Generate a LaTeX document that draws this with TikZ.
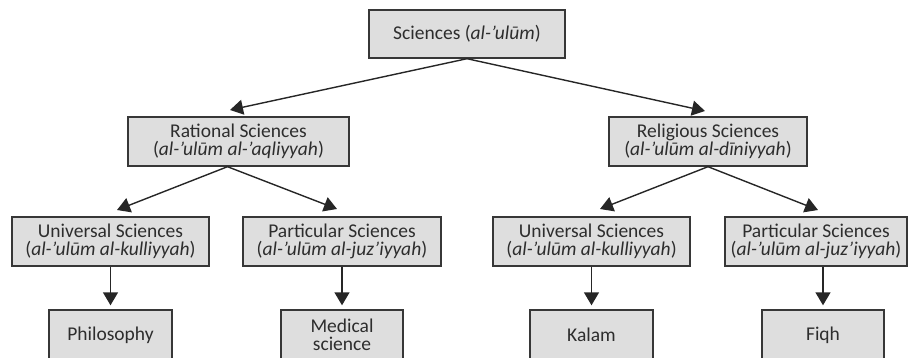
\documentclass[tikz,border=0pt]{standalone}
\usepackage{fontspec}
\setmainfont{Carlito}
\usetikzlibrary{arrows.meta,calc}
\definecolor{boxfill}{RGB}{222,222,222}
\definecolor{boxline}{RGB}{55,55,55}
\definecolor{txt}{RGB}{45,45,45}
\tikzset{
  box/.style={draw=boxline, fill=boxfill, line width=1.4pt, inner sep=0pt,
    minimum height=49pt, align=center, text=txt,
    font=\fontsize{19.5pt}{18pt}\selectfont},
  arr/.style={draw=black!85, line width=1.4pt,
    -{Triangle[length=13pt,width=15pt]}},
}
\begin{document}
\begin{tikzpicture}[x=1pt,y=-1pt]
\useasboundingbox (0,0) rectangle (912,358);
\node[box, minimum width=196pt, minimum height=48pt] (top) at (467,34) {Sciences (\textit{al-’ulūm})};
\node[box, minimum width=221pt] (rat) at (238.5,141.5) {Rational Sciences\\(\textit{al-’ulūm al-’aqliyyah})};
\node[box, minimum width=198pt] (rel) at (708,141.5) {Religious Sciences\\(\textit{al-’ulūm al-dīniyyah})};
\node[box, minimum width=197pt] (uniL) at (110.5,241.5) {Universal Sciences\\(\textit{al-’ulūm al-kulliyyah})};
\node[box, minimum width=198pt] (parL) at (342,241.5) {Particular Sciences\\(\textit{al-’ulūm al-juz’iyyah})};
\node[box, minimum width=197pt] (uniR) at (591.5,241.5) {Universal Sciences\\(\textit{al-’ulūm al-kulliyyah})};
\node[box, minimum width=182pt] (parR) at (816,241.5) {Particular Sciences\\(\textit{al-’ulūm al-juz’iyyah})};
\node[box, minimum width=123pt, minimum height=50pt] (phil) at (110.5,335) {Philosophy};
\node[box, minimum width=122pt, minimum height=50pt] (med) at (342,335) {Medical\\science};
\node[box, minimum width=123pt, minimum height=50pt] (kal) at (591.5,335) {Kalam};
\node[box, minimum width=122pt, minimum height=50pt] (fiq) at (823,335) {Fiqh};
\coordinate (tRat) at (230,110);
\coordinate (tRel) at (705,111);
\coordinate (tUL) at (117,210);
\coordinate (tPL) at (337,209);
\coordinate (tUR) at (600,209);
\coordinate (tPR) at (818,210);
\draw[arr] (top.south) -- (tRat);
\draw[arr] (top.south) -- (tRel);
\draw[arr] ([xshift=-11pt]rat.south) -- (tUL);
\draw[arr] ([xshift=-11pt]rat.south) -- (tPL);
\draw[arr] (rel.south) -- (tUR);
\draw[arr] (rel.south) -- (tPR);
\draw[arr, shorten >=4pt] (uniL.south -| phil.north) -- (phil.north);
\draw[arr, shorten >=4pt] (parL.south -| med.north) -- (med.north);
\draw[arr, shorten >=4pt] (uniR.south -| kal.north) -- (kal.north);
\draw[arr, shorten >=4pt] (parR.south -| fiq.north) -- (fiq.north);
\end{tikzpicture}
\end{document}
